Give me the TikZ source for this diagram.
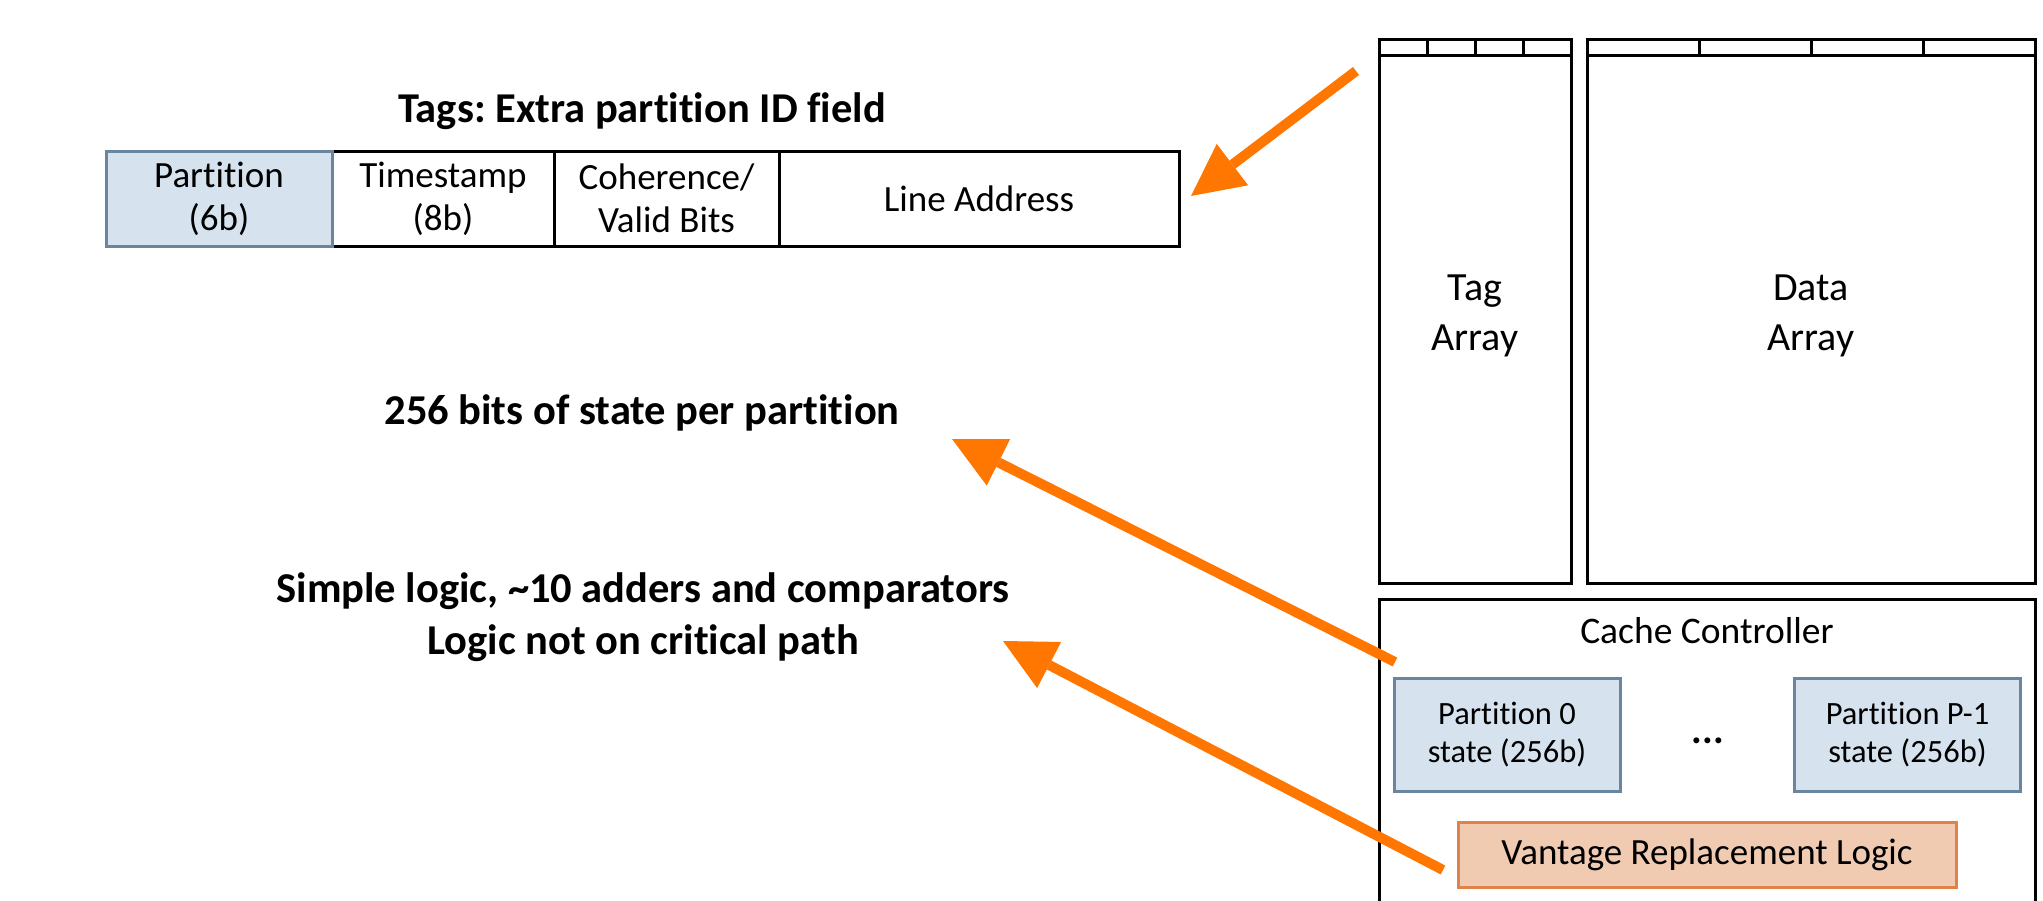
\documentclass[tikz,border=0pt]{standalone}
\usepackage{fontspec}
\setmainfont[Ligatures={NoCommon}]{Carlito}
\usetikzlibrary{arrows.meta}
\definecolor{arrowor}{RGB}{255,119,0}
\definecolor{partfill}{RGB}{214,227,238}
\definecolor{partdraw}{RGB}{106,133,158}
\definecolor{vanfill}{RGB}{241,203,177}
\definecolor{vandraw}{RGB}{224,130,74}
\frenchspacing
\begin{document}
\begin{tikzpicture}[x=1pt,y=-1pt,
  blk/.style={draw=black,line width=3pt},
  cell/.style={draw=black,line width=3pt,minimum height=95pt,inner sep=0pt,align=center,
    font=\fontsize{37}{43}\selectfont},
  pcell/.style={cell,draw=partdraw,fill=partfill},
  arrbox/.style={blk,minimum height=544pt,inner sep=0pt},
  arrtxt/.style={align=center,font=\fontsize{40}{50}\selectfont},
  stbox/.style={draw=partdraw,fill=partfill,line width=3pt,minimum width=226pt,minimum height=113pt,
    inner sep=0pt,align=center,font=\fontsize{32.5}{38}\selectfont},
  vanbox/.style={draw=vandraw,fill=vanfill,line width=3pt,minimum width=498pt,minimum height=65pt,
    inner sep=0pt,font=\fontsize{37}{40}\selectfont},
  boldlbl/.style={align=center,font=\bfseries\fontsize{42.5}{52}\selectfont},
  orarrow/.style={draw=arrowor,line width=10pt,-{Triangle[length=52pt,width=52pt,line width=0pt]}}
]
\useasboundingbox (0,0) rectangle (2043,900);

% tag field layout
\node[cell,minimum width=222pt] (ftime) at (443,198.5) {Timestamp\\(8b)};
\node[cell,minimum width=225pt] (fcoh) at (666.5,198.5) {Coherence/\\Valid Bits};
\node[cell,minimum width=400pt] (faddr) at (979,198.5) {Line Address};
\node[pcell,minimum width=226pt] (fpart) at (219,198.5) {Partition\\(6b)};
\node[boldlbl,anchor=base] (ttl) at (642,122) {Tags: Extra partition ID field};

% middle labels
\node[boldlbl,anchor=base] (lbl256) at (642,424) {256 bits of state per partition};
\node[boldlbl,anchor=base] (lblsimple) at (643,602) {Simple logic, \textasciitilde10 adders and comparators};
\node[boldlbl,anchor=base] (lbllogic) at (643,654) {Logic not on critical path};

% arrays
\node[arrbox,minimum width=192pt] (tagarr) at (1475,311) {};
\node[arrbox,minimum width=448pt] (datarr) at (1811,311) {};
\draw[blk] (1379,55) -- (1571,55);
\foreach \x in {1427,1475,1523} \draw[blk] (\x,39) -- (\x,55);
\draw[blk] (1587,55) -- (2035,55);
\foreach \x in {1699,1811,1923} \draw[blk] (\x,39) -- (\x,55);
\node[arrtxt] (tagtxt) at (1475,316) {Tag\\Array};
\node[arrtxt] (dattxt) at (1811,316) {Data\\Array};

% cache controller
\draw[blk] (1379,910) -- (1379,599) -- (2035,599) -- (2035,910);
\node[anchor=base,font=\fontsize{37.5}{40}\selectfont] (cctxt) at (1707,643) {Cache Controller};
\node[stbox] (p0) at (1507,734.5) {Partition 0\\state (256b)};
\node[stbox] (pp) at (1907.5,734.5) {Partition P-1\\state (256b)};
\node[anchor=base,font=\bfseries\fontsize{40}{40}\selectfont] (dots) at (1708,743) {...};
\node[vanbox] (van) at (1707,854.5) {Vantage Replacement Logic};

% arrows
\coordinate (a1s) at (1356,71);
\coordinate (a1e) at (1191,196);
\coordinate (a2s) at (1395,662);
\coordinate (a2e) at (952,439);
\coordinate (a3s) at (1443,870);
\coordinate (a3e) at (1003,641);
\draw[orarrow] (a1s) -- (a1e);
\draw[orarrow] (a2s) -- (a2e);
\draw[orarrow] (a3s) -- (a3e);
\end{tikzpicture}
\end{document}
